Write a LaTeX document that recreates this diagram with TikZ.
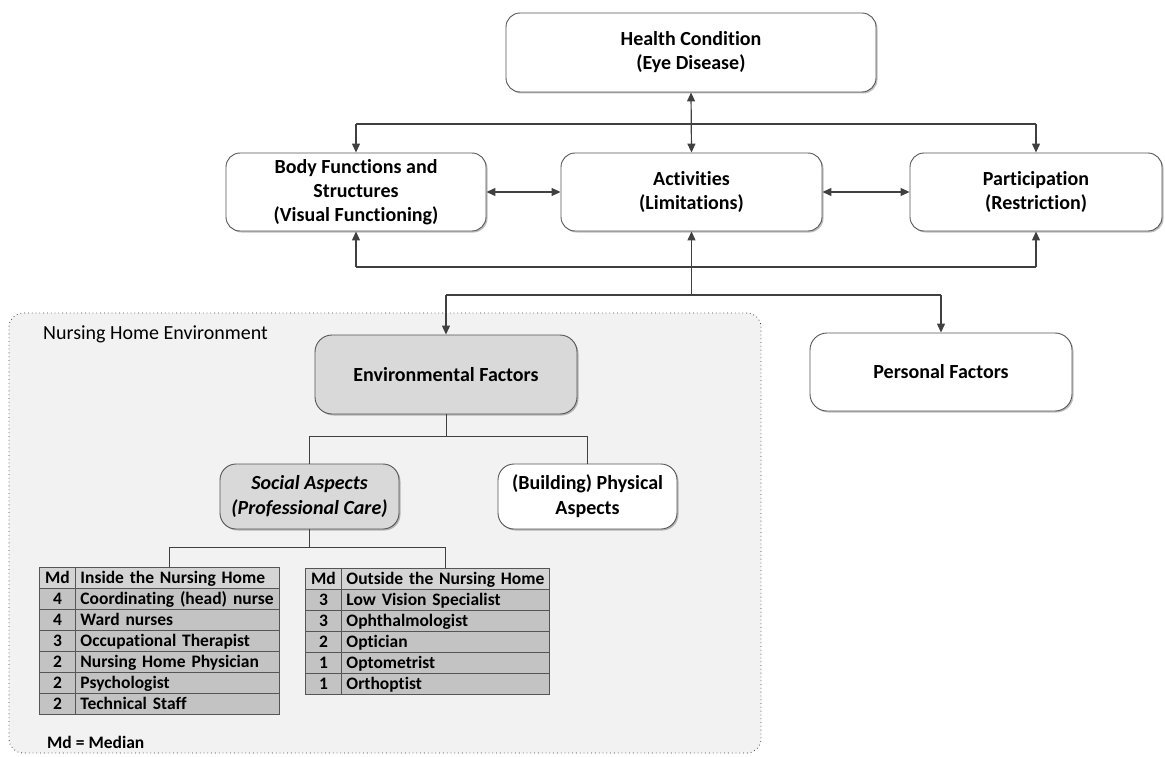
\documentclass[tikz,border=0pt]{standalone}
\usepackage{fontspec}
\setmainfont{Carlito}[Ligatures=NoCommon]
\usetikzlibrary{arrows.meta,shadows,calc}
\definecolor{ink}{HTML}{404040}
\definecolor{edge}{HTML}{555555}
\definecolor{panel}{HTML}{F2F2F2}
\definecolor{boxgray}{HTML}{D9D9D9}
\definecolor{headgray}{HTML}{D4D4D4}
\definecolor{rowgray}{HTML}{C3C3C3}
\begin{document}
\begin{tikzpicture}[x=1pt,y=-1pt,
  box/.style={draw=edge, line width=0.9pt, fill=white, rounded corners=14pt,
    align=center, inner sep=0pt, font=\bfseries\fontsize{20}{24}\selectfont,
    drop shadow={shadow xshift=1.5pt, shadow yshift=-1.5pt, opacity=0.25, fill=black}},
  graybox/.style={box, fill=boxgray},
  container/.style={draw=ink, dash pattern=on 0.8pt off 3pt, line width=0.8pt,
    fill=panel, rounded corners=14pt, inner sep=0pt},
  line/.style={draw=ink, line width=1.2pt},
  arr/.style={line, -{Triangle[length=9pt,width=8pt]}},
  dbl/.style={line, {Triangle[length=9pt,width=8pt]}-{Triangle[length=9pt,width=8pt]}},
  tree/.style={draw=ink, line width=1pt},
  cell/.style={draw=edge, line width=0.9pt, inner xsep=5pt, inner ysep=0pt,
    minimum height=21pt, text height=14.5pt, text depth=4pt, anchor=north west,
    font=\bfseries\fontsize{17.5}{21}\selectfont},
  mdcell/.style={cell, text width=26pt, align=center},
  lname/.style={cell, text width=194pt, align=left},
  rname/.style={cell, text width=198pt, align=left},
]
\useasboundingbox (0,0) rectangle (1165,757);

% nursing home panel
\node[container, minimum width=752pt, minimum height=440pt] (nhe) at (385,533) {};
\node[anchor=west, inner sep=0pt, font=\fontsize{20}{24}\selectfont] (nhelabel) at (43,334) {Nursing Home Environment};

% ICF boxes
\node[box, minimum width=370pt, minimum height=79pt] (health) at (691,52.5) {Health Condition\\(Eye Disease)};
\node[box, minimum width=260pt, minimum height=78pt] (body) at (356,192) {Body Functions and\\Structures\\(Visual Functioning)};
\node[box, minimum width=261pt, minimum height=78pt] (act) at (691.5,192) {Activities\\(Limitations)};
\node[box, minimum width=252pt, minimum height=78pt] (part) at (1036,192) {Participation\\(Restriction)};
\node[graybox, rounded corners=17pt, minimum width=262pt, minimum height=79pt] (env) at (446,374.5) {Environmental Factors};
\node[box, rounded corners=17pt, minimum width=262pt, minimum height=78pt] (pers) at (941,372) {Personal Factors};
\node[graybox, rounded corners=16pt, minimum width=179pt, minimum height=65pt,
  font=\bfseries\itshape\fontsize{20}{25}\selectfont] (social) at (309.5,496.5) {Social Aspects\\(Professional Care)};
\node[box, rounded corners=16pt, minimum width=179pt, minimum height=65pt,
  font=\bfseries\fontsize{20}{25}\selectfont] (building) at (587.5,496.5) {(Building) Physical\\Aspects};

% connectors between the ICF components
\draw[dbl] (health.south) -- (act.north);
\coordinate (topL) at (356,124);
\coordinate (topR) at (1036,124);
\draw[line] (topL) -- (topR);
\draw[arr] (topL) -- (body.north);
\draw[arr] (topR) -- (part.north);
\draw[dbl] (body.east) -- (act.west);
\draw[dbl] (act.east) -- (part.west);
\coordinate (botL) at (356,267);
\coordinate (botR) at (1036,267);
\draw[line] (botL) -- (botR);
\draw[arr] (botL) -- (body.south);
\draw[arr] (botR) -- (part.south);
\coordinate (brC) at (691.5,295);
\coordinate (brL) at (446,295);
\coordinate (brR) at (941,295);
\draw[arr] (brC) -- (act.south);
\draw[line] (brL) -- (brR);
\draw[arr] (brL) -- (env.north);
\draw[arr] (brR) -- (pers.north);

% environmental factors tree
\draw[tree] (env.south) -- ++(0,22) -| (social.north);
\draw[tree] (env.south) -- ++(0,22) -| (building.north);

% table of professionals inside the nursing home
\node[mdcell, fill=headgray] (inmd) at (39,567) {Md};
\node[lname, fill=headgray] (inhd) at (75,567) {Inside the Nursing Home};
\foreach \m/\t [count=\i] in {4/Coordinating (head) nurse, 4/Ward nurses,
    3/Occupational Therapist, 2/Nursing Home Physician, 2/Psychologist,
    2/Technical Staff}{
  \node[mdcell, fill=rowgray] (inm\i) at (39,567+21*\i) {\m};
  \node[lname, fill=rowgray] (int\i) at (75,567+21*\i) {\t};
}

% table of professionals outside the nursing home
\node[mdcell, fill=headgray] (outmd) at (305,568) {Md};
\node[rname, fill=headgray] (outhd) at (341,568) {Outside the Nursing Home};
\foreach \m/\t [count=\i] in {3/Low Vision Specialist, 3/Ophthalmologist,
    2/Optician, 1/Optometrist, 1/Orthoptist}{
  \node[mdcell, fill=rowgray] (outm\i) at (305,568+21*\i) {\m};
  \node[rname, fill=rowgray] (outt\i) at (341,568+21*\i) {\t};
}

% social aspects tree
\coordinate (tl) at (169,547);
\coordinate (tr) at (445,547);
\draw[tree] (social.south) |- (tl) -- (tl |- inhd.north);
\draw[tree] (social.south) |- (tr) -- (tr |- outhd.north);

\node[anchor=west, inner sep=0pt, font=\bfseries\fontsize{17.5}{21}\selectfont] (legend) at (47,742) {Md = Median};
\end{tikzpicture}
\end{document}
